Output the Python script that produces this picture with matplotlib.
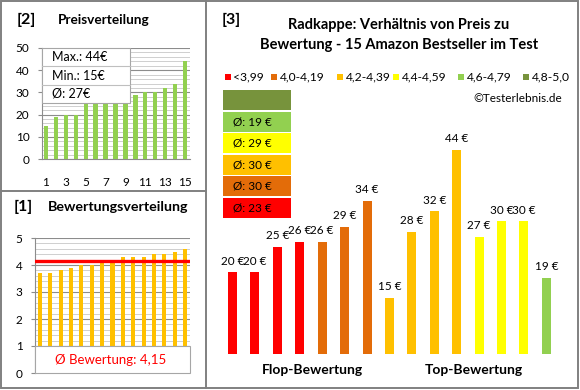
import numpy as np
import matplotlib.pyplot as plt
from matplotlib.patches import Rectangle

plt.rcParams['font.family'] = ['Lato', 'DejaVu Sans']

# Data (main chart order = sorted by rating)
ratings = [3.7, 3.7, 3.8, 3.9, 4.0, 4.0, 4.1, 4.2, 4.3, 4.3, 4.3, 4.4, 4.4, 4.5, 4.6]
prices = [20, 20, 25, 26, 26, 29, 34, 15, 28, 32, 44, 27, 30, 30, 19]
bin_labels = ["<3,99", "4,0-4,19", "4,2-4,39", "4,4-4,59", "4,6-4,79", "4,8-5,0"]
bin_edges = [3.995, 4.195, 4.395, 4.595, 4.795]
bin_colors = ["#FF0000", "#E36C09", "#FFC000", "#FFFF00", "#92D050", "#77933C"]

W, H = 580, 390
fig = plt.figure(figsize=(5.8, 3.9), dpi=100)


def px_axes(x0, y0, x1, y1):
    return fig.add_axes([x0 / W, 1 - y1 / H, (x1 - x0) / W, (y1 - y0) / H])


def excel_grid(ax, major, minor):
    ax.set_yticks(major)
    ax.set_yticks(minor, minor=True)
    ax.grid(which='major', axis='y', color='#8C8C8C', lw=0.8, zorder=0)
    ax.grid(which='minor', axis='y', color='#C8C8C8', lw=0.6, zorder=0)
    ax.tick_params(which='minor', length=0)
    ax.tick_params(axis='y', length=3, color='#8C8C8C', labelsize=8.5, pad=6)
    for s in ['top', 'right']:
        ax.spines[s].set_visible(False)
    for s in ['left', 'bottom']:
        ax.spines[s].set_color('#8C8C8C')
    ax.set_axisbelow(True)


idx = np.arange(1, len(prices) + 1)

# [2] price distribution
ax2 = px_axes(42, 48, 190, 159)
ax2.bar(idx, np.sort(prices), width=0.44, color='#92D050', zorder=3)
ax2.set_xlim(0.6, 15.5)
ax2.set_ylim(0, 50)
excel_grid(ax2, range(0, 51, 10), range(0, 51, 2))
ax2.set_xticks(idx[::2])
ax2.tick_params(axis='x', length=0, labelsize=8.5, pad=13)

# [1] rating distribution
avg_rating = np.mean(ratings)
ax1 = px_axes(35, 238, 190, 373)
ax1.bar(idx, np.sort(ratings), width=0.39, color='#FFC000', zorder=3)
ax1.plot([0.6, 15.4], [avg_rating, avg_rating], color='#FF0000', lw=2.4, zorder=4)
ax1.set_xlim(0.52, 15.48)
ax1.set_ylim(0, 5)
excel_grid(ax1, range(0, 6), np.arange(0, 5.01, 0.2))
ax1.set_xticks([])
ax1.spines['bottom'].set_visible(False)

# [3] main chart
groups = np.digitize(ratings, bin_edges)
axm = px_axes(215, 48, 565, 354)
axm.bar(idx, prices, width=0.4, color=[bin_colors[g] for g in groups])
for i, p in zip(idx, prices):
    axm.annotate(f"{p} €", (i, p), xytext=(0, 4), textcoords='offset points',
                 ha='center', va='bottom', fontsize=8.5)
axm.set_xlim(0.22, 15.83)
axm.set_ylim(4, 64)
axm.axis('off')

# overlay for frames, boxes and texts (pixel coords)
ov = fig.add_axes([0, 0, 1, 1])
ov.set_xlim(0, W)
ov.set_ylim(H, 0)
ov.axis('off')
frame = dict(color='#808080', lw=1.4)
ov.add_patch(Rectangle((1, 1), 577, 387, fill=False, ec='#808080', lw=1.4))
ov.plot([205.5, 205.5], [1, 388], **frame)
ov.plot([1, 205.5], [190.5, 190.5], **frame)

# panel titles
ov.text(17, 20, "[2]", fontsize=11.5, fontweight='bold', va='center')
ov.text(58, 20, "Preisverteilung", fontsize=9.8, fontweight='bold', va='center')
ov.text(14, 207, "[1]", fontsize=11.5, fontweight='bold', va='center')
ov.text(48, 207, "Bewertungsverteilung", fontsize=10.3, fontweight='bold', va='center')
ov.text(222, 20, "[3]", fontsize=11.5, fontweight='bold', va='center')
ov.text(399, 25, "Radkappe: Verhältnis von Preis zu", fontsize=10.5,
        fontweight='bold', ha='center', va='center')
ov.text(399, 45, "Bewertung - 15 Amazon Bestseller im Test", fontsize=10.5,
        fontweight='bold', ha='center', va='center')

# price stats box
ov.add_patch(Rectangle((42, 48), 88, 55, fc='white', ec='#A6A6A6', lw=0.8))
ov.plot([42, 130], [66, 66], color='#BFBFBF', lw=0.8)
ov.plot([42, 130], [84.5, 84.5], color='#BFBFBF', lw=0.8)
ov.text(52, 57, f"Max.: {max(prices)}€", fontsize=9, va='center')
ov.text(52, 75.5, f"Min.: {min(prices)}€", fontsize=9, va='center')
ov.text(52, 94, f"Ø: {round(np.mean(prices))}€", fontsize=9, va='center')

# rating average box
ov.add_patch(Rectangle((35, 346), 155, 27, fc='white', ec='#A6A6A6', lw=0.8))
ov.text(111, 359.5, f"Ø Bewertung: {avg_rating:.2f}".replace('.', ','),
        fontsize=9.5, color='#FF0000', ha='center', va='center')

# legend row
leg_x = [225, 271, 337, 393, 458, 523]
for x, lab, c in zip(leg_x, bin_labels, bin_colors):
    ov.add_patch(Rectangle((x, 74), 6, 6, fc=c, ec='none'))
    ov.text(x + 8.5, 77, lab, fontsize=8.7, va='center')
ov.text(562, 98, "©Testerlebnis.de", fontsize=8.5, ha='right', va='center')

# group average boxes (top = best group)
prices_arr = np.array(prices)
for k, g in enumerate(range(5, -1, -1)):
    y0 = 90 + k * 21.6
    ov.add_patch(Rectangle((223, y0), 68, 20, fc=bin_colors[g], ec='none'))
    sel = prices_arr[groups == g]
    if len(sel):
        ov.text(233, y0 + 10, f"Ø: {int(np.mean(sel) + 0.5)} €", fontsize=8.5, va='center')

ov.text(312, 370, "Flop-Bewertung", fontsize=10, fontweight='bold', ha='center', va='center')
ov.text(474, 370, "Top-Bewertung", fontsize=10, fontweight='bold', ha='center', va='center')

fig.savefig("out.png", dpi=100)
